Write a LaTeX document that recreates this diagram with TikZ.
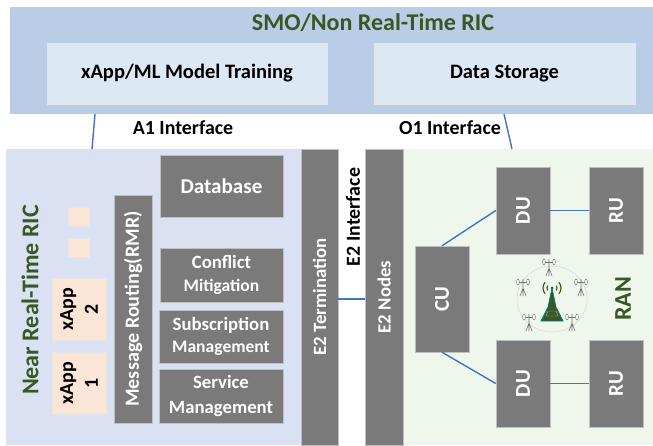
\documentclass[tikz,border=0pt]{standalone}
\usepackage{fontspec}
\setmainfont{Carlito}
\definecolor{smoblue}{RGB}{185,205,230}
\definecolor{lightblue}{RGB}{221,232,245}
\definecolor{ricblue}{RGB}{218,225,243}
\definecolor{ranblue}{RGB}{239,246,236}
\definecolor{appskin}{RGB}{250,229,214}
\definecolor{boxgray}{RGB}{122,122,122}
\definecolor{titlegreen}{RGB}{56,87,35}
\definecolor{linkblue}{RGB}{68,114,196}
\tikzset{
  panel/.style={draw=none, fill=#1, inner sep=0pt},
  block/.style={draw=black!25, line width=.4pt, fill=boxgray, text=white, font=\bfseries\fontsize{16}{18.5}\selectfont, align=center, inner sep=0pt},
  softbox/.style={draw=black!10, line width=.4pt, fill=lightblue, font=\bfseries\fontsize{17.5}{20}\selectfont, inner sep=0pt},
  appbox/.style={draw=black!10, line width=.4pt, fill=appskin, font=\bfseries\fontsize{17}{21}\selectfont, align=center, inner sep=0pt},
  link/.style={draw=linkblue, line width=1.2pt},
  heading/.style={text=titlegreen, font=\bfseries\fontsize{20.5}{23}\selectfont},
  iflabel/.style={font=\bfseries\fontsize{17}{20}\selectfont},
  mast/.style={draw=black!55, line width=.5pt},
  lens/.style={draw=titlegreen!70, fill=ranblue, line width=.4pt}
}
% one px of the reference is one unit
\newcommand{\pxbox}[6][]{\node[#2, minimum width=(#5-#3)*.03cm, minimum height=(#6-#4)*.03cm, #1] at ({(#3+#5)/2},{(#4+#6)/2})}
\newcommand{\pxtall}[6][]{\node[#2, rotate=90, minimum width=(#6-#4)*.03cm, minimum height=(#5-#3)*.03cm, #1] at ({(#3+#5)/2},{(#4+#6)/2})}
\newcommand{\smallmast}[2]{
  \draw[mast] (#1-3,#2+9)--(#1,#2+1)--(#1+3,#2+9) (#1,#2-8)--(#1,#2+9);
  \draw[mast] (#1-5,#2-5)--(#1+5,#2-5);
  \draw[lens] (#1-5,#2-5) ellipse (1.4 and 3);
  \draw[lens] (#1+5,#2-5) ellipse (1.4 and 3);
}
\begin{document}
\begin{tikzpicture}[x=.03cm, y=-.03cm]
\useasboundingbox (0,0) rectangle (653,445);
% top part
\pxbox{panel=smoblue}{10}{7}{653}{114} (smo) {};
\node[heading] (smotitle) at (373,23) {SMO/Non Real-Time RIC};
\pxbox{softbox}{47}{43}{327}{104} (training) {xApp/ML Model Training};
\pxbox{softbox}{374}{43}{635}{104} (storage) {Data Storage};
% lower panels
\pxbox{panel=ricblue}{6}{149}{301}{445} (ric) {};
\pxbox{panel=ranblue}{403}{149}{653}{445} (ran) {};
\coordinate (aonetop) at (95,114);
\coordinate (aonefoot) at (92,149);
\coordinate (oonetop) at (504,114);
\coordinate (oonefoot) at (512,149);
\draw[link] (aonetop)--(aonefoot);
\draw[link] (oonetop)--(oonefoot);
\node[iflabel] (aonelabel) at (183,128) {A1 Interface};
\node[iflabel] (oonelabel) at (450,128) {O1 Interface};
% near real-time side
\node[heading, rotate=90] (riclabel) at (30,300) {Near Real-Time RIC};
\pxbox{appbox}{68}{207}{89}{226} (dotsa) {};
\pxbox{appbox}{68}{238}{89}{257} (dotsb) {};
\pxtall{appbox}{52}{278}{106}{340} (apptwo) {xApp\\2};
\pxtall{appbox}{52}{352}{106}{414} (appone) {xApp\\1};
\pxtall[font=\bfseries\fontsize{17.2}{20}\selectfont]{block}{114}{195}{152}{423} (routing) {Message Routing(RMR)};
\pxbox[font=\bfseries\fontsize{18}{20}\selectfont]{block}{160}{155}{283}{217} (database) {Database};
\pxbox{block}{160}{248}{283}{302} (conflict) {Conflict\\[1pt]{\fontsize{15}{18.5}\selectfont Mitigation}};
\pxbox{block}{159}{310}{283}{363} (subscription) {Subscription\\{\fontsize{15}{18.5}\selectfont Management}};
\pxbox{block}{159}{369}{283}{423} (service) {Service\\[2pt]Management};
\pxtall{block}{301}{149}{338}{445} (term) {E2 Termination};
% RAN side
\pxtall{block}{365}{149}{403}{445} (nodes) {E2 Nodes};
\node[iflabel, rotate=90] (etwolabel) at (353,217) {E2 Interface};
\pxtall[font=\bfseries\fontsize{18}{20}\selectfont]{block}{415}{246}{469}{352} (cu) {CU};
\pxtall[font=\bfseries\fontsize{18}{20}\selectfont]{block}{496}{167}{550}{254} (dutop) {DU};
\pxtall[font=\bfseries\fontsize{18}{20}\selectfont]{block}{589}{167}{643}{254} (rutop) {RU};
\pxtall[font=\bfseries\fontsize{18}{20}\selectfont]{block}{496}{340}{550}{427} (dubot) {DU};
\pxtall[font=\bfseries\fontsize{18}{20}\selectfont]{block}{589}{340}{643}{427} (rubot) {RU};
\node[heading, rotate=90] (ranlabel) at (623,299) {RAN};
\draw[link] (term.south |- cu.center)--(nodes.north |- cu.center);
\draw[link] (cu.east)--(dutop.north);
\draw[link] (cu.west)--(dubot.north);
\draw[link] (dutop.south)--(rutop.north);
\draw[link] (dubot.south)--(rubot.north);
% tower with its ring of masts
\draw[black!15, line width=.5pt] (552,299) ellipse (35 and 33);
\smallmast{549}{267}
\smallmast{523}{287}
\smallmast{581}{287}
\smallmast{529}{322}
\smallmast{572}{322}
\draw[fill=titlegreen, draw=teal, line width=.6pt] (552,288)--(556,307)--(563,321)--(541,321)--(548,307)--cycle;
\draw[black!30, line width=.4pt] (548,311)--(556,311)--(558,316)--(546,316)--cycle;
\fill[titlegreen] (552,288) circle (1.5);
\draw[titlegreen, line width=1pt] (552,288) ++(150:5) arc (150:210:5) (552,288) ++(-30:5) arc (-30:30:5);
\draw[titlegreen, line width=1pt] (552,288) ++(140:9) arc (140:220:9) (552,288) ++(-40:9) arc (-40:40:9);
\end{tikzpicture}
\end{document}
